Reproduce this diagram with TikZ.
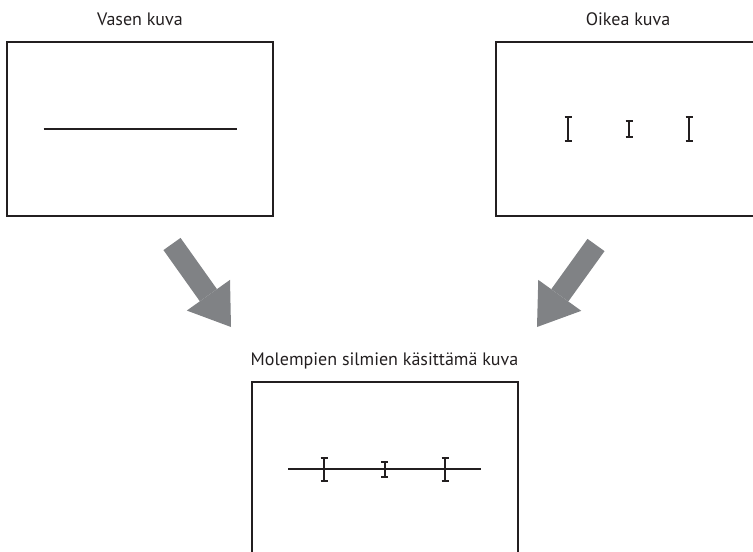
\documentclass[tikz,border=0pt]{standalone}
\usepackage{fontspec}
\setmainfont{PT Sans}
\usetikzlibrary{arrows.meta,positioning}
\definecolor{ink}{HTML}{231F20}
\definecolor{arrowgray}{HTML}{808285}
\tikzset{
  frame/.style={draw=ink,line width=2pt,minimum width=266pt,minimum height=174pt,inner sep=0pt},
  title/.style={font=\fontsize{18}{21}\selectfont,text=ink,anchor=base},
  bigarrow/.style={arrowgray,line width=21pt,-{Triangle[length=39pt,width=53pt,line width=0pt]}},
  bar/.style={ink,line width=2pt}
}

\begin{document}
\begin{tikzpicture}[x=1pt,y=-1pt]
\useasboundingbox (0,0) rectangle (753,552);
\clip (0,0) rectangle (753,552);

% the three pictures
\node[frame] (left) at (140,129) {};
\node[frame] (right) at (629,129) {};
\node[frame] (both) at (384.5,469) {};

\node[title] (lefttitle) at (140,25) {Vasen kuva};
\node[title] (righttitle) at (628,25) {Oikea kuva};
\node[title] (bothtitle) at (384.5,365) {Molempien silmien käsittämä kuva};

% left eye: the line
\draw[bar] ([xshift=-96.5pt]left.center) -- ([xshift=96.5pt]left.center);

% right eye: the bars
\foreach \dx/\h in {-61/12,0/8,60/12} {
  \coordinate (t) at ([xshift=\dx pt]right.center);
  \draw[bar] ([yshift=\h pt]t) -- ([yshift=-\h pt]t)
    ([xshift=-3.5pt,yshift=\h pt]t) -- ([xshift=3.5pt,yshift=\h pt]t)
    ([xshift=-3.5pt,yshift=-\h pt]t) -- ([xshift=3.5pt,yshift=-\h pt]t);
}

% both eyes
\draw[bar] ([xshift=-96.5pt]both.center) -- ([xshift=96.5pt]both.center);
\foreach \dx/\h in {-60.5/11.5,0/7.5,60.5/11.5} {
  \coordinate (b) at ([xshift=\dx pt]both.center);
  \draw[bar] ([yshift=\h pt]b) -- ([yshift=-\h pt]b)
    ([xshift=-3.5pt,yshift=\h pt]b) -- ([xshift=3.5pt,yshift=\h pt]b)
    ([xshift=-3.5pt,yshift=-\h pt]b) -- ([xshift=3.5pt,yshift=-\h pt]b);
}

% arrows
\coordinate (la) at (172,244);
\coordinate (lb) at (231,327);
\coordinate (ra) at (596,245);
\coordinate (rb) at (537,327);
\draw[bigarrow] (la) -- (lb);
\draw[bigarrow] (ra) -- (rb);

\end{tikzpicture}
\end{document}
